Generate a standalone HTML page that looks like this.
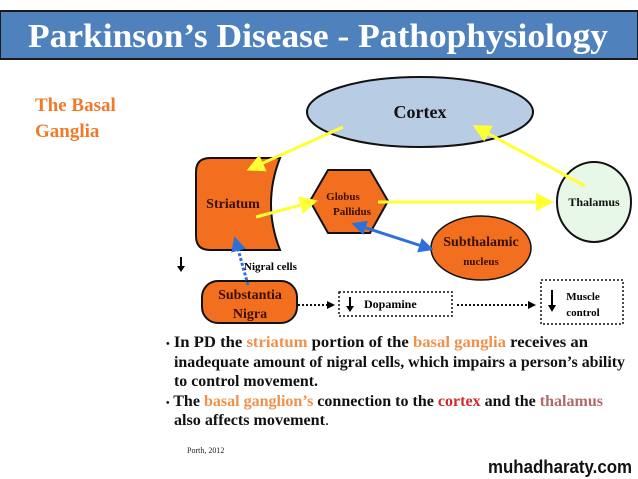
<!DOCTYPE html>
<html><head><style>
body{margin:0;width:638px;height:479px;background:#fff;overflow:hidden;font-family:"Liberation Serif",serif}
</style></head><body>
<svg width="638" height="479" xmlns="http://www.w3.org/2000/svg" style="position:absolute;left:0;top:0">
<defs>
<marker id="ya" markerWidth="6" markerHeight="6" refX="4" refY="3" orient="auto" markerUnits="strokeWidth"><path d="M0,0 L6,3 L0,6 z" fill="#ffff33"/></marker>
<marker id="ba" markerWidth="5" markerHeight="5" refX="3" refY="2.5" orient="auto" markerUnits="strokeWidth"><path d="M0,0 L5,2.5 L0,5 z" fill="#2f6fd8"/></marker>
<marker id="bs" markerWidth="5" markerHeight="5" refX="2" refY="2.5" orient="auto-start-reverse" markerUnits="strokeWidth"><path d="M0,0 L5,2.5 L0,5 z" fill="#2f6fd8"/></marker>
<marker id="ka" markerWidth="8" markerHeight="8" refX="6" refY="4" orient="auto" markerUnits="userSpaceOnUse"><path d="M0,0 L8,4 L0,8 z" fill="#000"/></marker>
</defs>
<rect x="0" y="11" width="638" height="48" fill="#4f81bd" stroke="#1a1a1a" stroke-width="2"/>
<text x="28" y="47" textLength="580" lengthAdjust="spacingAndGlyphs" font-family="Liberation Serif" font-weight="bold" font-size="34" fill="#fff">Parkinson’s Disease - Pathophysiology</text>
<text x="35" y="111" font-weight="bold" font-size="19" fill="#f07a2a">The Basal</text>
<text x="35" y="137" font-weight="bold" font-size="19" fill="#f07a2a">Ganglia</text>
<ellipse cx="420" cy="112" rx="113" ry="35" fill="#b8cce4" stroke="#111" stroke-width="2"/>
<text x="420" y="118" text-anchor="middle" font-weight="bold" font-size="18" fill="#111">Cortex</text>
<path d="M210,158 L280,158 Q262,204 280,250 L210,250 Q196,250 196,236 L196,172 Q196,158 210,158 z" fill="#f26f1f" stroke="#111" stroke-width="2"/>
<text x="233" y="208" text-anchor="middle" font-weight="bold" font-size="14" fill="#3a1000">Striatum</text>
<polygon points="328,170 370,170 388,201 370,233 328,233 310,201" fill="#f26f1f" stroke="#111" stroke-width="2"/>
<text x="343" y="200" text-anchor="middle" font-weight="bold" font-size="11" fill="#3a1000">Globus</text>
<text x="352" y="215" text-anchor="middle" font-weight="bold" font-size="11" fill="#3a1000">Pallidus</text>
<ellipse cx="481" cy="248" rx="50" ry="32" fill="#f26f1f" stroke="#111" stroke-width="1.5"/>
<text x="481" y="246" text-anchor="middle" font-weight="bold" font-size="14" fill="#3a1000">Subthalamic</text>
<text x="481" y="265" text-anchor="middle" font-weight="bold" font-size="11" fill="#3a1000">nucleus</text>
<ellipse cx="594" cy="202" rx="37" ry="40" fill="#e8f8e8" stroke="#111" stroke-width="2"/>
<text x="594" y="206" text-anchor="middle" font-weight="bold" font-size="12" fill="#111">Thalamus</text>
<rect x="202" y="281" width="95" height="42" rx="16" fill="#f26f1f" stroke="#111" stroke-width="2"/>
<text x="250" y="299" text-anchor="middle" font-weight="bold" font-size="14" fill="#3a1000">Substantia</text>
<text x="250" y="318" text-anchor="middle" font-weight="bold" font-size="14" fill="#3a1000">Nigra</text>
<rect x="339" y="292" width="113" height="24" fill="none" stroke="#111" stroke-width="1.5" stroke-dasharray="2,2"/>
<line x1="350" y1="297" x2="350" y2="307" stroke="#000" stroke-width="2"/><path d="M346,306 L354,306 L350,312 z"/>
<text x="364" y="308" font-weight="bold" font-size="12">Dopamine</text>
<rect x="541" y="280" width="82" height="44" fill="none" stroke="#111" stroke-width="1.5" stroke-dasharray="2,2"/>
<line x1="552" y1="290" x2="552" y2="306" stroke="#000" stroke-width="2"/><path d="M548,305 L556,305 L552,312 z"/>
<text x="583" y="300" text-anchor="middle" font-weight="bold" font-size="11">Muscle</text>
<text x="583" y="316" text-anchor="middle" font-weight="bold" font-size="11">control</text>
<line x1="298" y1="305" x2="333" y2="305" stroke="#111" stroke-width="2" stroke-dasharray="2,2" marker-end="url(#ka)"/>
<line x1="457" y1="305" x2="534" y2="305" stroke="#111" stroke-width="2" stroke-dasharray="2,2" marker-end="url(#ka)"/>
<line x1="343" y1="127" x2="252" y2="168" stroke="#ffff33" stroke-width="3" marker-end="url(#ya)"/>
<line x1="256" y1="217" x2="312" y2="202" stroke="#ffff33" stroke-width="3" marker-end="url(#ya)"/>
<line x1="378" y1="202" x2="548" y2="202" stroke="#ffff33" stroke-width="3" marker-end="url(#ya)"/>
<line x1="585" y1="186" x2="478" y2="128" stroke="#ffff33" stroke-width="3" marker-end="url(#ya)"/>
<line x1="360" y1="226" x2="428" y2="248" stroke="#2f6fd8" stroke-width="3" marker-end="url(#ba)" marker-start="url(#bs)"/>
<line x1="248" y1="285" x2="236" y2="242" stroke="#2f6fd8" stroke-width="3" stroke-dasharray="3,2" marker-end="url(#ba)"/>
<line x1="181" y1="257" x2="181" y2="267" stroke="#000" stroke-width="2"/><path d="M177,266 L185,266 L181,272 z"/>
<text x="244" y="270" font-weight="bold" font-size="11">Nigral  cells</text>
<g font-weight="bold" font-size="16" fill="#111">
<text x="166" y="347" textLength="422" lengthAdjust="spacingAndGlyphs"><tspan font-size="10">•</tspan> In PD the <tspan fill="#f0914a">striatum</tspan> portion of the <tspan fill="#f0914a">basal ganglia</tspan> receives an</text>
<text x="174" y="367" textLength="451" lengthAdjust="spacingAndGlyphs">inadequate amount of nigral cells, which impairs a person’s ability</text>
<text x="174" y="386" textLength="144" lengthAdjust="spacingAndGlyphs">to control movement.</text>
<text x="166" y="406" textLength="437" lengthAdjust="spacingAndGlyphs"><tspan font-size="10">•</tspan> The <tspan fill="#f0914a">basal ganglion’s</tspan> connection to the <tspan fill="#d02a2a">cortex</tspan> and the <tspan fill="#b06a6a">thalamus</tspan></text>
<text x="174" y="425" textLength="155" lengthAdjust="spacingAndGlyphs">also affects movement<tspan font-weight="normal">.</tspan></text>
</g>
<text x="187" y="453" font-size="8" fill="#222">Porth, 2012</text>
<text x="488" y="473" textLength="144" lengthAdjust="spacingAndGlyphs" font-family="Liberation Sans" font-weight="bold" font-size="18" fill="#111">muhadharaty.com</text>
</svg>
</body></html>
